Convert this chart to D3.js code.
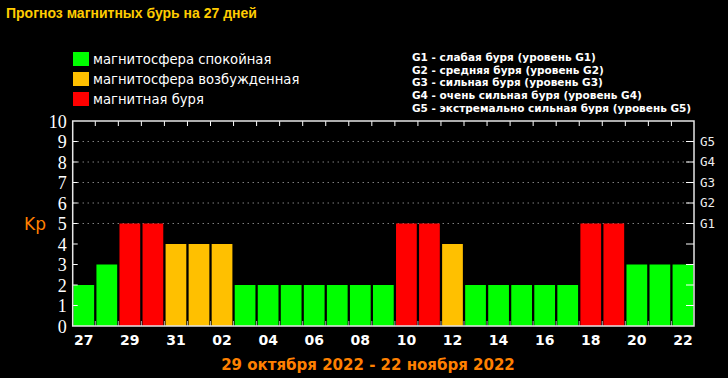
<!DOCTYPE html>
<html><head><meta charset="utf-8">
<script src="https://cdn.jsdelivr.net/npm/d3@7"></script>
<style>
html,body{margin:0;padding:0;background:#000;}
svg{display:block;}
</style></head>
<body>
<script>
// ---- data ----
const days = ["27","28","29","30","31","01","02","03","04","05","06","07","08","09","10","11","12","13","14","15","16","17","18","19","20","21","22"];
const kp =   [2,3,5,5,4,4,4,2,2,2,2,2,2,2,5,5,4,2,2,2,2,2,5,5,3,3,3];
const levels = ["q","q","s","s","a","a","a","q","q","q","q","q","q","q","s","s","a","q","q","q","q","q","s","s","q","q","q"];
const yTicks = [0,1,2,3,4,5,6,7,8,9,10];
const gLabels = [{v:5,t:"G1"},{v:6,t:"G2"},{v:7,t:"G3"},{v:8,t:"G4"},{v:9,t:"G5"}];
const legendItems = [{k:"q",t:"магнитосфера спокойная"},{k:"a",t:"магнитосфера возбужденная"},{k:"s",t:"магнитная буря"}];
const gLegend = ["G1 - слабая буря (уровень G1)","G2 - средняя буря (уровень G2)","G3 - сильная буря (уровень G3)","G4 - очень сильная буря (уровень G4)","G5 - экстремально сильная буря (уровень G5)"];
const title = "Прогноз магнитных бурь на 27 дней";
const subtitle = "29 октября 2022 - 22 ноября 2022";

const colors = {q:"#00ff00", a:"#ffc000", s:"#ff0000"};

const W=728,H=378;
const svg = d3.select("body").append("svg").attr("width",W).attr("height",H).style("background","#000");

const L=72.7,R=694,T=121,B=326;
const x = d3.scaleBand().domain(days).range([L,R]).paddingInner(0.1).paddingOuter(0.03);
const y = d3.scaleLinear().domain([0,10]).range([B,T]);
const step = x.step();
const bounds = days.slice(1).map(d => x(d) - step*x.paddingInner()/2);

// title
svg.append("text").attr("x",6).attr("y",18).text(title)
  .attr("fill","#ffcc00").attr("font-family","Liberation Sans, Arial").attr("font-weight","bold").attr("font-size",14);

// legend
const lg = svg.append("g");
legendItems.forEach((it,i)=>{
  lg.append("rect").attr("x",73).attr("y",52+i*20).attr("width",16).attr("height",14).attr("fill",colors[it.k]);
  lg.append("text").attr("x",93).attr("y",64+i*20).text(it.t).attr("fill","#fff")
    .attr("font-family","DejaVu Sans").attr("font-size",13.2);
});
gLegend.forEach((t,i)=>{
  svg.append("text").attr("x",412).attr("y",61+i*12.7).text(t).attr("fill","#fff")
    .attr("font-family","DejaVu Sans").attr("font-weight","bold").attr("font-size",10.5);
});

// grid (dotted) for 5..9
svg.append("g").selectAll("line").data(gLabels).join("line")
  .attr("x1",L).attr("x2",R).attr("y1",d=>y(d.v)).attr("y2",d=>y(d.v))
  .attr("stroke","#bbb").attr("stroke-width",1).attr("stroke-dasharray","1,4");

// bars
svg.append("g").selectAll("rect").data(days).join("rect")
  .attr("x",d=>x(d)).attr("width",x.bandwidth())
  .attr("y",(d,i)=>y(kp[i])).attr("height",(d,i)=>y(0)-y(kp[i]))
  .attr("fill",(d,i)=>colors[levels[i]]);

// left axis
const yl = d3.axisLeft(y).tickValues(yTicks).tickSize(0).tickPadding(6);
const gl = svg.append("g").attr("transform",`translate(${L},0)`).call(yl);
gl.select(".domain").remove();
gl.selectAll("text").attr("fill","#fff").attr("font-family","Liberation Serif").attr("font-size",18).attr("dy","0.34em");
// left inward ticks
svg.append("g").selectAll("line").data(yTicks.slice(1,10)).join("line")
  .attr("x1",L).attr("x2",L+5).attr("y1",d=>y(d)).attr("y2",d=>y(d)).attr("stroke","#fff").attr("stroke-width",1);
// right inward ticks
svg.append("g").selectAll("line").data(yTicks.slice(1,10)).join("line")
  .attr("x1",R-8).attr("x2",R).attr("y1",d=>y(d)).attr("y2",d=>y(d)).attr("stroke","#fff").attr("stroke-width",1);
// right G labels
svg.append("g").selectAll("text").data(gLabels).join("text")
  .attr("x",700).attr("y",d=>y(d.v)).attr("dy","0.35em").text(d=>d.t)
  .attr("fill","#eee").attr("font-family","DejaVu Sans Mono").attr("font-size",12.5);

// Kp label
svg.append("text").attr("x",24).attr("y",y(5)+6).text("Kp").attr("fill","#ff8000")
  .attr("font-family","DejaVu Sans").attr("font-size",17);

// top ticks & bottom ticks at band boundaries
svg.append("g").selectAll("line").data(bounds).join("line")
  .attr("x1",d=>d).attr("x2",d=>d).attr("y1",T).attr("y2",T+5).attr("stroke","#fff");
svg.append("g").selectAll("line").data(bounds).join("line")
  .attr("x1",d=>d).attr("x2",d=>d).attr("y1",B).attr("y2",B-5).attr("stroke","#aaa");

// frame
svg.append("rect").attr("x",L).attr("y",T).attr("width",R-L).attr("height",B-T)
  .attr("fill","none").attr("stroke","#e6e6e6").attr("stroke-width",1.5);

// bottom axis
const xa = d3.axisBottom(x).tickValues(days.filter((d,i)=>i%2===0)).tickSize(0).tickPadding(9);
const gx = svg.append("g").attr("transform",`translate(0,${B})`).call(xa);
gx.select(".domain").remove();
gx.selectAll("text").attr("fill","#fff").attr("font-family","DejaVu Sans").attr("font-weight","bold").attr("font-size",14);

// subtitle
svg.append("text").attr("x",368).attr("y",370).attr("text-anchor","middle").text(subtitle)
  .attr("fill","#ff8000").attr("font-family","DejaVu Sans").attr("font-weight","bold").attr("font-size",15);
</script>
</body></html>
